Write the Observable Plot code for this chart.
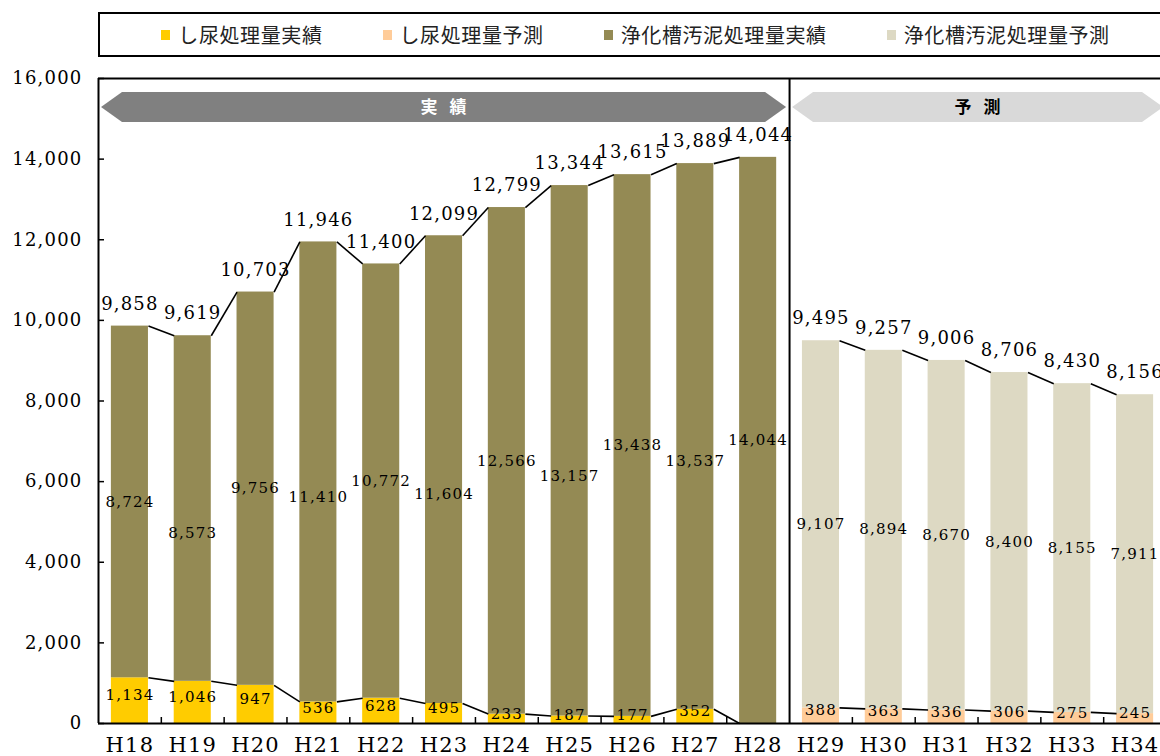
<!DOCTYPE html>
<html><head><meta charset="utf-8">
<script src="https://cdn.jsdelivr.net/npm/d3@7"></script>
<script src="https://cdn.jsdelivr.net/npm/@observablehq/plot@0.6"></script>
<style>
html,body{margin:0;padding:0;background:#fff;}
#wrap{position:relative;width:1160px;height:756px;overflow:hidden;}
#legend{height:60px;position:relative;}
#legend .box{position:absolute;left:98px;top:12px;width:1075px;height:45px;box-sizing:border-box;border:2px solid #000;display:flex;align-items:center;justify-content:center;gap:60px;font-family:"Noto Sans CJK JP",sans-serif;font-size:20px;color:#222;letter-spacing:0.6px;}
#legend .item{display:flex;align-items:center;white-space:nowrap;}
#legend .sw{width:9px;height:10px;margin-right:8px;}
#chart svg{display:block;}
#chart svg text{letter-spacing:1.2px;}
#chart svg text.banner{letter-spacing:4px;}
</style></head><body>
<div id="wrap"><div id="legend"><div class="box"></div></div><div id="chart"></div></div>
<script>
// ---- data ----
const categories = ["H18","H19","H20","H21","H22","H23","H24","H25","H26","H27","H28","H29","H30","H31","H32","H33","H34"];
const phase = ["実績","実績","実績","実績","実績","実績","実績","実績","実績","実績","実績","予測","予測","予測","予測","予測","予測"];
const shinyo = [1134,1046,947,536,628,495,233,187,177,352,0,388,363,336,306,275,245];
const jokaso = [8724,8573,9756,11410,10772,11604,12566,13157,13438,13537,14044,9107,8894,8670,8400,8155,7911];
const seriesNames = ["し尿処理量実績","し尿処理量予測","浄化槽汚泥処理量実績","浄化槽汚泥処理量予測"];
const seriesColors = ["#FFCC00","#FFCC99","#948A54","#DDD9C3"];
const phaseLabels = ["実績","予測"];
const yTicks = [0,2000,4000,6000,8000,10000,12000,14000,16000];

// ---- legend ----
const legendBox = document.querySelector("#legend .box");
seriesNames.forEach((n,k) => {
  const it = document.createElement("div"); it.className = "item";
  const sw = document.createElement("span"); sw.className = "sw"; sw.style.background = seriesColors[k];
  const tx = document.createElement("span"); tx.textContent = n;
  it.append(sw, tx); legendBox.append(it);
});

// ---- derived rows ----
const fmt = d3.format(",");
const rows = categories.map((c,i) => ({i, cat:c, phase:phase[i], shinyo:shinyo[i], jokaso:jokaso[i], total:shinyo[i]+jokaso[i]}));
const segs = rows.slice(0,-1).filter((r,k) => rows[k+1].phase === r.phase).map(r => ({a:r, b:rows[r.i+1]}));
const half = 0.295;
const xDomain = [-0.5, categories.length - 0.5];
const yMax = yTicks[yTicks.length-1];
const nActual = phase.filter(p => p === phaseLabels[0]).length;
const divider = nActual - 0.5;
const boundaries = d3.range(1, categories.length).map(i => i - 0.5).filter(b => b !== divider);
const bottomName = r => r.phase === phaseLabels[0] ? seriesNames[0] : seriesNames[1];
const topName = r => r.phase === phaseLabels[0] ? seriesNames[2] : seriesNames[3];
const isStagger = r => r.phase === phaseLabels[0] && r.i % 2 === 1;

const chart = Plot.plot({
  width: 1160, height: 696,
  marginTop: 18, marginBottom: 33, marginLeft: 98, marginRight: 0,
  style: {fontFamily: "'DejaVu Serif', serif", background: "transparent", color: "#000"},
  x: {type: "linear", domain: xDomain, range: [98, 1166]},
  y: {domain: [0, yMax]},
  color: {domain: seriesNames, range: seriesColors},
  marks: [
    Plot.rect(rows.filter(r => r.shinyo > 0), {x1: r => r.i - half, x2: r => r.i + half, y1: 0, y2: "shinyo", fill: bottomName}),
    Plot.rect(rows, {x1: r => r.i - half, x2: r => r.i + half, y1: "shinyo", y2: "total", fill: topName}),
    Plot.link(segs, {x1: d => d.a.i + half, y1: d => d.a.total, x2: d => d.b.i - half, y2: d => d.b.total, stroke: "#000", strokeWidth: 1.6}),
    Plot.link(segs, {x1: d => d.a.i + half, y1: d => d.a.shinyo, x2: d => d.b.i - half, y2: d => d.b.shinyo, stroke: "#000", strokeWidth: 1.6}),
    Plot.text(rows, {x: "i", y: "total", text: d => fmt(d.total), dy: -22, fontSize: 18, fill: "#000"}),
    Plot.text(rows.filter(r => !isStagger(r)), {x: "i", y: r => r.shinyo + r.jokaso/2, text: d => fmt(d.jokaso), fontSize: 15, fill: "#000"}),
    Plot.text(rows.filter(isStagger), {x: "i", y: r => r.shinyo + r.jokaso/2, text: d => fmt(d.jokaso), dy: 25, fontSize: 15, fill: "#000"}),
    Plot.text(rows.filter(r => r.shinyo > 0), {x: "i", y: r => r.shinyo/2, text: d => fmt(d.shinyo), dy: -5, fontSize: 15, fill: "#000"}),
    Plot.ruleY([yMax], {strokeWidth: 2}),
    Plot.ruleY([0], {strokeWidth: 2}),
    Plot.ruleX([xDomain[0]], {y1: 0, y2: yMax, strokeWidth: 2}),
    Plot.ruleX([divider], {y1: 0, y2: yMax, strokeWidth: 2}),
    Plot.ruleX(boundaries, {y1: 0, y2: 0, insetBottom: 6, strokeWidth: 1.5}),
    Plot.ruleY(yTicks, {x1: xDomain[0], x2: xDomain[0], insetRight: -6, strokeWidth: 1.5}),
    Plot.axisY(yTicks, {tickSize: 0, tickPadding: 16, tickFormat: fmt, fontSize: 18, label: null}),
    Plot.axisX(rows.map(r => r.i), {tickSize: 0, tickPadding: 14, tickFormat: i => categories[i], fontSize: 21, label: null})
  ]
});
document.getElementById("chart").append(chart);

// ---- period banners (positioned through the plot's scales) ----
const sx = chart.scale("x"), sy = chart.scale("y");
const X = sx.apply ? (v => sx.apply(v)) : d3.scaleLinear(sx.domain, sx.range);
const Y = sy.apply ? (v => sy.apply(v)) : d3.scaleLinear(sy.domain, sy.range);
const bTop = Y(yMax) + 14, bH = 30, tip = 21;
const banners = [
  {label: phaseLabels[0], x0: X(xDomain[0]) + 3, x1: X(divider) - 3, fill: "#808080", color: "#fff"},
  {label: phaseLabels[1], x0: X(divider) + 3, x1: X(xDomain[1]) - 3, fill: "#D9D9D9", color: "#000"}
];
const g = d3.select(chart).append("g");
banners.forEach(b => {
  const cy = bTop + bH/2;
  g.append("path")
    .attr("d", `M${b.x0},${cy}L${b.x0+tip},${bTop}L${b.x1-tip},${bTop}L${b.x1},${cy}L${b.x1-tip},${bTop+bH}L${b.x0+tip},${bTop+bH}Z`)
    .attr("fill", b.fill);
  g.append("text").attr("class","banner")
    .attr("x", (b.x0+b.x1)/2 + 2).attr("y", cy).attr("dy", "0.35em")
    .attr("text-anchor", "middle")
    .attr("font-family", "'Noto Sans CJK JP', sans-serif").attr("font-weight", "bold").attr("font-size", 17)
    .attr("fill", b.color)
    .text(b.label.split("").join(" "));
});
</script>
</body></html>
